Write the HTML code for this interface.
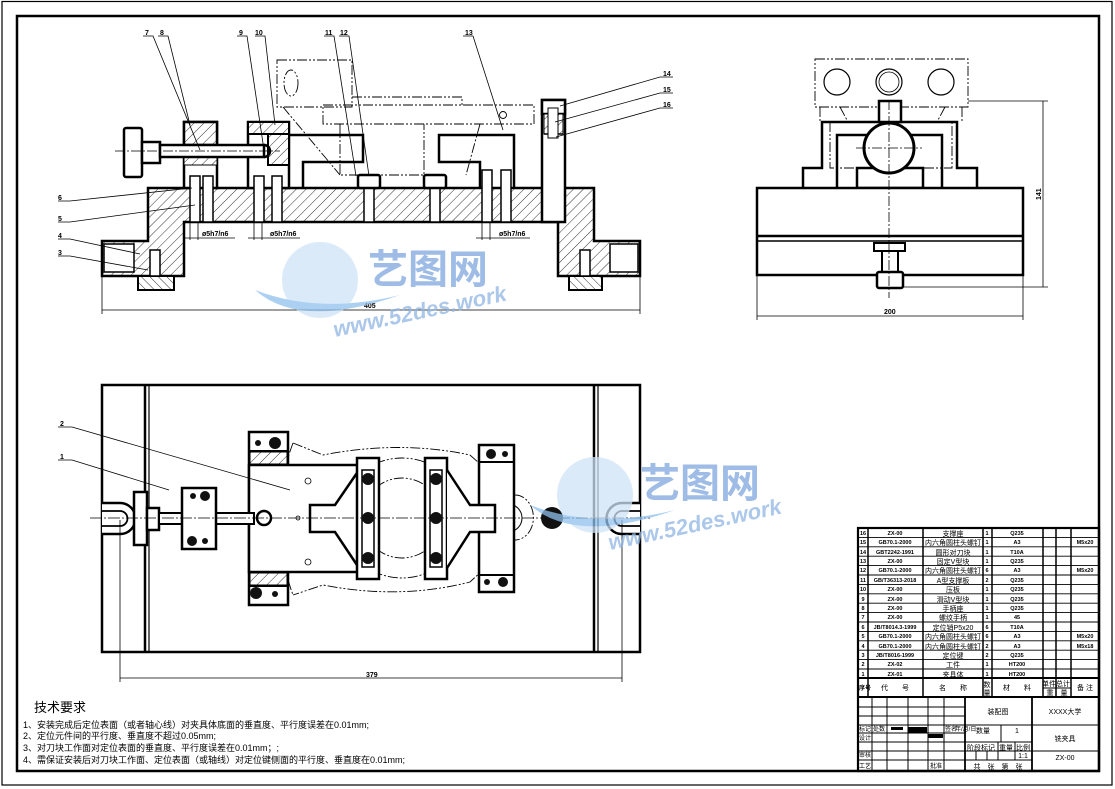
<!DOCTYPE html>
<html><head><meta charset="utf-8"><style>
html,body{margin:0;padding:0;background:#fff}
svg{display:block}
text{font-family:"Liberation Sans","Noto Sans CJK SC",sans-serif;fill:#000}
</style></head><body>
<svg width="1115" height="789" viewBox="0 0 1115 789" xmlns="http://www.w3.org/2000/svg">
<defs>
<pattern id="h" width="7" height="7" patternUnits="userSpaceOnUse" patternTransform="rotate(45)">
<rect width="7" height="7" fill="#fff"/><line x1="0" y1="0" x2="0" y2="7" stroke="#000" stroke-width="0.8"/></pattern>
<pattern id="h2" width="6" height="6" patternUnits="userSpaceOnUse" patternTransform="rotate(-45)">
<rect width="6" height="6" fill="#fff"/><line x1="0" y1="0" x2="0" y2="6" stroke="#000" stroke-width="0.8"/></pattern>
</defs>
<!-- frames -->
<rect x="2" y="1.5" width="1110" height="783.5" fill="none" stroke="#000" stroke-width="1.2"/>
<rect x="17" y="16" width="1082" height="755" fill="none" stroke="#000" stroke-width="2.5"/>

<!-- ============ FRONT VIEW ============ -->
<g stroke="#000" fill="none">
<!-- phantom workpiece -->
<g stroke-width="0.9" stroke-dasharray="10,2,2,2,2,2">
<rect x="277" y="60" width="75" height="47"/>
<rect x="323" y="105" width="211" height="19"/>
<path d="M352,97 H462 V105"/>
<ellipse cx="291" cy="83" rx="7" ry="13"/>
<path d="M340,124 V175 H424 V124"/>
<path d="M480,124 L466,175"/>
<path d="M283,107 L340,175"/>
</g>
<circle cx="503" cy="115" r="3.5" stroke-width="0.9"/>
<!-- body -->
<path d="M148,188 H594 V241 H640 V276 H558 V222 H184 V276 H102 V241 H148 Z" fill="url(#h)" stroke-width="2.5"/>
<rect x="104" y="244" width="30" height="28" fill="#fff" stroke-width="1.5"/>
<rect x="610" y="244" width="28" height="28" fill="#fff" stroke-width="1.5"/>
<!-- keys -->
<rect x="138" y="276" width="36" height="14" fill="url(#h2)" stroke-width="2"/>
<rect x="569" y="276" width="33" height="14" fill="url(#h2)" stroke-width="2"/>
<rect x="150" y="250" width="10" height="26" fill="#fff" stroke-width="1.5"/>
<rect x="580" y="250" width="10" height="26" fill="#fff" stroke-width="1.5"/>
<!-- block 8 -->
<rect x="184" y="122" width="33" height="66" fill="#fff" stroke-width="2.5"/>
<rect x="184" y="122" width="33" height="23" fill="url(#h)" stroke-width="2.5"/>
<rect x="184" y="157" width="33" height="8" fill="url(#h)" stroke-width="1"/>
<!-- block 10 -->
<rect x="248" y="122" width="41" height="66" fill="#fff" stroke-width="2.5"/>
<rect x="248" y="122" width="41" height="12" fill="url(#h)" stroke-width="2"/>
<rect x="268" y="134" width="21" height="31" fill="url(#h)" stroke-width="2"/>
<!-- handle -->
<rect x="124" y="128" width="18" height="49" rx="2" fill="#fff" stroke-width="2.5"/>
<rect x="142" y="142" width="18" height="21" fill="#fff" stroke-width="2.5"/>
<rect x="160" y="145" width="104" height="12" fill="#fff" stroke-width="2.5"/>
<path d="M264,145 A6,6 0 0 1 264,157" stroke-width="2.5"/>
<line x1="115" y1="151" x2="280" y2="151" stroke-width="0.8" stroke-dasharray="10,2,2,2"/>
<!-- block 11 -->
<path d="M290,135 H363 V162 H303 V188" stroke-width="2.5"/>
<!-- block 13 -->
<path d="M480,188 V162 H439 V135 H514 V188" stroke-width="2.5"/>
<!-- screws -->
<g stroke-width="1.5" fill="#fff">
<rect x="190" y="176" width="10" height="46"/><rect x="203" y="176" width="10" height="46"/>
<rect x="254" y="176" width="10" height="46"/><rect x="272" y="176" width="10" height="46"/>
<rect x="482" y="170" width="10" height="52"/><rect x="501" y="170" width="10" height="52"/>
<rect x="364" y="188" width="10" height="34"/><rect x="430" y="188" width="10" height="34"/>
</g>
<rect x="358" y="175" width="22" height="13" rx="2" fill="#fff" stroke-width="2.5"/>
<rect x="424" y="175" width="22" height="13" rx="2" fill="#fff" stroke-width="2.5"/>
<!-- pin 14 -->
<rect x="542" y="100" width="23" height="122" fill="#fff" stroke-width="2.5"/>
<rect x="542" y="100" width="23" height="14" fill="#fff" stroke-width="2.5"/>
<rect x="544" y="114" width="19" height="20" fill="url(#h)" stroke-width="1"/>
<line x1="544" y1="134" x2="563" y2="134" stroke-width="1.5"/>
<rect x="548" y="108" width="10" height="30" fill="#fff" stroke-width="1"/>
<!-- dimension 405 -->
<g stroke-width="0.8">
<line x1="102" y1="276" x2="102" y2="314"/><line x1="640" y1="276" x2="640" y2="314"/>
<line x1="102" y1="310" x2="640" y2="310"/>
<line x1="190" y1="222" x2="190" y2="240"/><line x1="198" y1="222" x2="198" y2="240"/><line x1="184" y1="238" x2="235" y2="238"/>
<line x1="254" y1="222" x2="254" y2="240"/><line x1="262" y1="222" x2="262" y2="240"/><line x1="248" y1="238" x2="300" y2="238"/>
<line x1="482" y1="222" x2="482" y2="240"/><line x1="490" y1="222" x2="490" y2="240"/><line x1="476" y1="238" x2="530" y2="238"/>
</g>
<!-- leaders -->
<g stroke-width="0.8">
<path d="M143,36 H153 L200,150"/><path d="M158,36 H168 L190,125"/>
<path d="M237,36 H247 L264,150"/><path d="M255,36 H265 L275,125"/>
<path d="M324,36 H334 L356,176"/><path d="M339,36 H349 L369,176"/>
<path d="M463,36 H473 L503,130"/>
<path d="M673,77 H660 L560,106"/><path d="M673,93 H660 L555,122"/><path d="M673,108 H660 L556,137"/>
<path d="M58,201 H70 L192,188"/><path d="M58,222 H70 L195,205"/>
<path d="M58,239 H70 L140,254"/><path d="M58,256 H70 L148,270"/>
</g>
</g>
<g font-size="7" font-weight="bold">
<text x="145" y="35">7</text><text x="160" y="35">8</text><text x="239" y="35">9</text><text x="255" y="35">10</text>
<text x="325" y="35">11</text><text x="340" y="35">12</text><text x="465" y="35">13</text>
<text x="663" y="76">14</text><text x="663" y="92">15</text><text x="663" y="107">16</text>
<text x="58" y="200">6</text><text x="58" y="221">5</text><text x="58" y="238">4</text><text x="58" y="255">3</text>
<text x="364" y="308">405</text>
<text x="202" y="236">ø5h7/n6</text><text x="270" y="236">ø5h7/n6</text><text x="499" y="236">ø5h7/n6</text>
</g>

<!-- ============ SIDE VIEW ============ -->
<g stroke="#000" fill="none">
<g stroke-width="0.9" stroke-dasharray="10,2,2,2,2,2">
<rect x="815" y="59" width="153" height="48"/>
<path d="M820,107 V122 M962,107 V122 M840,107 L848,122 M945,107 L937,122 M830,122 V168 H952 V122"/>
</g>
<circle cx="837" cy="82" r="13" stroke-width="1.2"/>
<circle cx="889" cy="82" r="13" stroke-width="1.2"/><circle cx="889" cy="82" r="10" stroke-width="0.8"/>
<circle cx="941" cy="82" r="13" stroke-width="1.2"/>
<path d="M803,188 V168 H822 V122 H957 V168 H977 V188" stroke-width="2.5"/>
<path d="M837,188 V135 H942 V188" stroke-width="2.5"/>
<rect x="857" y="168" width="66" height="20" stroke-width="2.5"/>
<rect x="879" y="101" width="22" height="21" fill="#fff" stroke-width="2.5"/>
<circle cx="889" cy="148" r="25" fill="#fff" stroke-width="3"/>
<rect x="757" y="188" width="266" height="87" fill="#fff" stroke-width="2.5"/>
<line x1="757" y1="236" x2="1023" y2="236" stroke-width="2.5"/>
<line x1="757" y1="241" x2="1023" y2="241" stroke-width="1.5"/>
<rect x="874" y="243" width="31" height="8" fill="#fff" stroke-width="2"/>
<rect x="882" y="251" width="16" height="21" fill="#fff" stroke-width="2"/>
<rect x="877" y="272" width="26" height="16" rx="2" fill="#fff" stroke-width="2.5"/>
<line x1="889" y1="100" x2="889" y2="298" stroke-width="0.8" stroke-dasharray="10,2,2,2"/>
<line x1="856" y1="148" x2="922" y2="148" stroke-width="0.8" stroke-dasharray="10,2,2,2"/>
<g stroke-width="0.8">
<line x1="968" y1="101" x2="1048" y2="101"/><line x1="903" y1="287" x2="1048" y2="287"/>
<line x1="1043" y1="101" x2="1043" y2="287"/>
<line x1="757" y1="275" x2="757" y2="320"/><line x1="1023" y1="275" x2="1023" y2="320"/>
<line x1="757" y1="316" x2="1023" y2="316"/>
</g>
</g>
<text x="884" y="314" font-size="7" font-weight="bold">200</text>
<text x="0" y="0" font-size="7" font-weight="bold" transform="translate(1041,200) rotate(-90)">141</text>

<!-- ============ TOP VIEW ============ -->
<g stroke="#000" fill="none">
<rect x="102" y="385" width="538" height="267" stroke-width="2.5"/>
<line x1="145" y1="385" x2="145" y2="652" stroke-width="2.5"/><line x1="149" y1="385" x2="149" y2="652" stroke-width="1.2"/>
<line x1="594" y1="385" x2="594" y2="652" stroke-width="2.5"/><line x1="598" y1="385" x2="598" y2="652" stroke-width="1.2"/>
<!-- U slots -->
<path d="M102,503 H120 A15,15 0 0 1 120,534 H102" fill="#fff" stroke-width="2.5"/>
<path d="M102,511 H120 A7,7 0 0 1 120,526 H102" stroke-width="1.8"/>
<path d="M640,503 H622 A15,15 0 0 0 622,534 H640" fill="#fff" stroke-width="2.5"/>
<path d="M640,511 H622 A7,7 0 0 0 622,526 H640" stroke-width="1.8"/>
<!-- phantom workpiece -->
<g stroke-width="0.9" stroke-dasharray="10,2,2,2,2,2">
<path d="M293,443 L323,455 Q400,440 470,455 L515,495 A18,22 0 0 1 515,540 L470,582 Q400,600 323,585 L293,595"/>
<path d="M293,443 Q265,518 293,595"/>
<ellipse cx="402" cy="518" rx="62" ry="60"/>
<ellipse cx="402" cy="518" rx="40" ry="40"/>
</g>
<circle cx="508" cy="518" r="14" stroke-width="1"/>
<!-- left block -->
<rect x="249" y="432" width="39" height="173" fill="#fff" stroke-width="2.5"/>
<rect x="249" y="465" width="110" height="107" fill="#fff" stroke-width="2.5"/>
<rect x="250" y="452" width="37" height="12" fill="url(#h)" stroke-width="1"/>
<rect x="250" y="573" width="37" height="12" fill="url(#h)" stroke-width="1"/>
<line x1="249" y1="451" x2="288" y2="451" stroke-width="2"/><line x1="249" y1="586" x2="288" y2="586" stroke-width="2"/>
<path d="M359,470 L335,505 H310 V532 H335 L359,568" fill="#fff" stroke-width="2.5"/>
<!-- jaws -->
<rect x="357" y="458" width="22" height="121" fill="#fff" stroke-width="2.5"/>
<rect x="362" y="470" width="12" height="97" stroke-width="1.5"/>
<rect x="425" y="458" width="22" height="121" fill="#fff" stroke-width="2.5"/>
<rect x="430" y="470" width="12" height="97" stroke-width="1.5"/>
<!-- right block -->
<rect x="479" y="445" width="35" height="147" fill="#fff" stroke-width="2.5"/>
<path d="M447,470 L470,505 H495 V532 H470 L447,568" fill="#fff" stroke-width="2.5"/>
<line x1="479" y1="462" x2="514" y2="462" stroke-width="2"/><line x1="479" y1="575" x2="514" y2="575" stroke-width="2"/>
<!-- screw rod -->
<rect x="134" y="492" width="13" height="53" fill="#fff" stroke-width="2.5"/>
<rect x="147" y="508" width="12" height="22" fill="#fff" stroke-width="2.5"/>
<rect x="159" y="513" width="95" height="11" fill="#fff" stroke-width="2"/>
<rect x="182" y="488" width="34" height="61" fill="#fff" stroke-width="2.5"/>
<circle cx="264" cy="518" r="7" fill="#fff" stroke-width="2.5"/>
<line x1="90" y1="518" x2="650" y2="518" stroke-width="0.8" stroke-dasharray="12,2,2,2"/>
<!-- dims -->
<g stroke-width="0.8">
<line x1="120" y1="520" x2="120" y2="682"/><line x1="622" y1="520" x2="622" y2="682"/>
<line x1="120" y1="678" x2="622" y2="678"/>
<path d="M58,427 H72 L290,490"/><path d="M58,460 H72 L169,490"/>
</g>
</g>
<!-- filled circles top view -->
<g fill="#111">
<circle cx="258" cy="443" r="3"/><circle cx="275" cy="443" r="6"/>
<circle cx="256" cy="593" r="6"/><circle cx="275" cy="594" r="3"/>
<circle cx="491" cy="454" r="5"/><circle cx="505" cy="454" r="3"/>
<circle cx="487" cy="582" r="3"/><circle cx="503" cy="582" r="5"/>
<circle cx="193" cy="496" r="3"/><circle cx="205" cy="496" r="5"/>
<circle cx="192" cy="541" r="5"/><circle cx="205" cy="541" r="3"/>
<circle cx="368" cy="479" r="6"/><circle cx="368" cy="518" r="6"/><circle cx="368" cy="558" r="6"/>
<circle cx="436" cy="479" r="6"/><circle cx="436" cy="518" r="6"/><circle cx="436" cy="558" r="6"/>
<circle cx="552" cy="518" r="11"/>
</g>
<g fill="none" stroke="#000" stroke-width="0.8"><circle cx="308" cy="481" r="3"/><circle cx="298" cy="518" r="2"/><circle cx="308" cy="562" r="3"/></g>
<g font-size="7" font-weight="bold">
<text x="60" y="426">2</text><text x="60" y="459">1</text><text x="366" y="677">379</text>
</g>

<!-- ============ WATERMARKS ============ -->
<g opacity="0.75">
<ellipse cx="320" cy="280" rx="38" ry="38" fill="#cfe3f7"/>
<path d="M255,290 Q300,330 400,295 Q320,315 255,290 Z" fill="#8fc0ec"/>
<text x="368" y="283" font-size="40" font-weight="bold" fill="#7ea6dc" style="fill:#7ea6dc" font-family="Noto Sans CJK SC,sans-serif">艺图网</text>
<text x="0" y="0" font-size="22" font-weight="bold" font-style="italic" style="fill:#8fb4e2" transform="translate(335,337) rotate(-12)">www.52des.work</text>
<ellipse cx="595" cy="495" rx="38" ry="38" fill="#cfe3f7"/>
<path d="M530,505 Q575,545 675,510 Q595,530 530,505 Z" fill="#8fc0ec"/>
<text x="640" y="497" font-size="40" font-weight="bold" style="fill:#7ea6dc" font-family="Noto Sans CJK SC,sans-serif">艺图网</text>
<text x="0" y="0" font-size="22" font-weight="bold" font-style="italic" style="fill:#8fb4e2" transform="translate(610,550) rotate(-12)">www.52des.work</text>
</g>

<!-- ============ TECH TEXT ============ -->
<g font-family="Liberation Sans,Noto Sans CJK SC,sans-serif">
<text x="34" y="712" font-size="13">技术要求</text>
<text x="23" y="728" font-size="9">1、安装完成后定位表面（或者轴心线）对夹具体底面的垂直度、平行度误差在0.01mm;</text>
<text x="23" y="739" font-size="9">2、定位元件间的平行度、垂直度不超过0.05mm;</text>
<text x="23" y="751" font-size="9">3、对刀块工作面对定位表面的垂直度、平行度误差在0.01mm；;</text>
<text x="23" y="763" font-size="9">4、需保证安装后对刀块工作面、定位表面（或轴线）对定位键侧面的平行度、垂直度在0.01mm;</text>
</g>

<!-- ============ TITLE BLOCK ============ -->
<g stroke="#000" fill="none">
<rect x="858" y="528" width="241" height="243" stroke-width="2.2"/>
<line x1="858" y1="678" x2="1099" y2="678" stroke-width="2"/>
<line x1="858" y1="697" x2="1099" y2="697" stroke-width="2"/>
<g stroke-width="0.9">
<line x1="858" y1="537.4" x2="1099" y2="537.4"/><line x1="858" y1="546.8" x2="1099" y2="546.8"/>
<line x1="858" y1="556.2" x2="1099" y2="556.2"/><line x1="858" y1="565.6" x2="1099" y2="565.6"/>
<line x1="858" y1="575" x2="1099" y2="575"/><line x1="858" y1="584.4" x2="1099" y2="584.4"/>
<line x1="858" y1="593.8" x2="1099" y2="593.8"/><line x1="858" y1="603.2" x2="1099" y2="603.2"/>
<line x1="858" y1="612.6" x2="1099" y2="612.6"/><line x1="858" y1="622" x2="1099" y2="622"/>
<line x1="858" y1="631.4" x2="1099" y2="631.4"/><line x1="858" y1="640.8" x2="1099" y2="640.8"/>
<line x1="858" y1="650.2" x2="1099" y2="650.2"/><line x1="858" y1="659.6" x2="1099" y2="659.6"/>
<line x1="858" y1="669" x2="1099" y2="669"/>
<line x1="1043" y1="688" x2="1071" y2="688"/>
</g>
<g stroke-width="1.5">
<line x1="868" y1="528" x2="868" y2="697"/><line x1="923" y1="528" x2="923" y2="697"/>
<line x1="983" y1="528" x2="983" y2="697"/><line x1="992" y1="528" x2="992" y2="697"/>
<line x1="1043" y1="528" x2="1043" y2="697"/><line x1="1056" y1="528" x2="1056" y2="697"/>
<line x1="1071" y1="528" x2="1071" y2="697"/>
</g>
<!-- lower -->
<g stroke-width="1">
<line x1="858" y1="707" x2="965" y2="707"/><line x1="858" y1="716" x2="965" y2="716"/>
<line x1="858" y1="725" x2="1099" y2="725"/><line x1="858" y1="733" x2="965" y2="733"/>
<line x1="858" y1="742" x2="1032" y2="742"/><line x1="858" y1="751" x2="965" y2="751"/>
<line x1="965" y1="751" x2="1099" y2="751"/>
<line x1="858" y1="760" x2="1032" y2="760"/>
<line x1="872" y1="697" x2="872" y2="771"/><line x1="887" y1="697" x2="887" y2="771"/>
<line x1="908" y1="697" x2="908" y2="771"/><line x1="928" y1="697" x2="928" y2="771"/>
<line x1="944" y1="697" x2="944" y2="771"/>
<line x1="965" y1="697" x2="965" y2="771" stroke-width="1.8"/>
<line x1="1032" y1="697" x2="1032" y2="771" stroke-width="1.8"/>
<line x1="1001" y1="725" x2="1001" y2="742"/>
<line x1="998" y1="742" x2="998" y2="760"/><line x1="1015" y1="742" x2="1015" y2="760"/>
<line x1="976" y1="751" x2="976" y2="760"/><line x1="987" y1="751" x2="987" y2="760"/>
</g>
</g>
<rect x="891" y="727" width="12" height="3" fill="#000"/><rect x="908" y="727" width="19" height="6" fill="#000"/>
<rect x="928" y="734" width="15" height="4" fill="#000"/>
<g font-size="5.5" font-weight="bold" text-anchor="middle">
<text x="863" y="535">16</text><text x="863" y="544">15</text><text x="863" y="554">14</text><text x="863" y="563">13</text>
<text x="863" y="572">12</text><text x="863" y="582">11</text><text x="863" y="591">10</text><text x="863" y="601">9</text>
<text x="863" y="610">8</text><text x="863" y="619">7</text><text x="863" y="629">6</text><text x="863" y="638">5</text>
<text x="863" y="648">4</text><text x="863" y="657">3</text><text x="863" y="666">2</text><text x="863" y="676">1</text>
<text x="895" y="535">ZX-00</text><text x="895" y="544">GB70.1-2000</text><text x="895" y="554">GBT2242-1991</text><text x="895" y="563">ZX-00</text>
<text x="895" y="572">GB70.1-2000</text><text x="895" y="582">GB/T36313-2018</text><text x="895" y="591">ZX-00</text><text x="895" y="601">ZX-00</text>
<text x="895" y="610">ZX-00</text><text x="895" y="619">ZX-00</text><text x="895" y="629">JB/T8014.3-1999</text><text x="895" y="638">GB70.1-2000</text>
<text x="895" y="648">GB70.1-2000</text><text x="895" y="657">JB/T8016-1999</text><text x="895" y="666">ZX-02</text><text x="895" y="676">ZX-01</text>
<text x="987" y="535">1</text><text x="987" y="544">1</text><text x="987" y="554">1</text><text x="987" y="563">1</text>
<text x="987" y="572">6</text><text x="987" y="582">2</text><text x="987" y="591">1</text><text x="987" y="601">1</text>
<text x="987" y="610">1</text><text x="987" y="619">1</text><text x="987" y="629">6</text><text x="987" y="638">6</text>
<text x="987" y="648">2</text><text x="987" y="657">2</text><text x="987" y="666">1</text><text x="987" y="676">1</text>
<text x="1017" y="535">Q235</text><text x="1017" y="544">A3</text><text x="1017" y="554">T10A</text><text x="1017" y="563">Q235</text>
<text x="1017" y="572">A3</text><text x="1017" y="582">Q235</text><text x="1017" y="591">Q235</text><text x="1017" y="601">Q235</text>
<text x="1017" y="610">Q235</text><text x="1017" y="619">45</text><text x="1017" y="629">T10A</text><text x="1017" y="638">A3</text>
<text x="1017" y="648">A3</text><text x="1017" y="657">Q235</text><text x="1017" y="666">HT200</text><text x="1017" y="676">HT200</text>
<text x="1085" y="544">M5x20</text><text x="1085" y="572">M5x20</text><text x="1085" y="638">M5x20</text><text x="1085" y="648">M5x18</text>
</g>
<g font-size="7" text-anchor="middle" font-family="Liberation Sans,Noto Sans CJK SC,sans-serif">
<text x="953" y="536">支撑座</text><text x="953" y="545">内六角圆柱头螺钉</text><text x="953" y="555">圆形对刀块</text><text x="953" y="564">固定V型块</text>
<text x="953" y="573">内六角圆柱头螺钉</text><text x="953" y="583">A型支撑板</text><text x="953" y="592">压板</text><text x="953" y="602">滑动V型块</text>
<text x="953" y="611">手柄座</text><text x="953" y="620">螺纹手柄</text><text x="953" y="630">定位销P5x20</text><text x="953" y="639">内六角圆柱头螺钉</text>
<text x="953" y="649">内六角圆柱头螺钉</text><text x="953" y="658">定位键</text><text x="953" y="667">工件</text><text x="953" y="677">夹具体</text>
<text x="895" y="690">代　　号</text><text x="953" y="690">名　　称</text><text x="987" y="687">数</text><text x="987" y="695">量</text>
<text x="1017" y="690">材　　料</text><text x="1049" y="686">单件</text><text x="1063" y="686">总计</text><text x="1057" y="695">重　量</text><text x="1085" y="690">备 注</text>
<text x="998" y="714">装配图</text><text x="1065" y="714">XXXX大学</text>
<text x="983" y="733">数量</text><text x="1017" y="733">1</text><text x="1065" y="741">铣夹具</text>
<text x="981" y="750">阶段标记</text><text x="1006" y="750">重量</text><text x="1023" y="750">比例</text>
<text x="1023" y="758">1:1</text><text x="1065" y="760">ZX-00</text>
<text x="998" y="769">共　张　第　张</text>
</g>
<g font-size="6" font-family="Liberation Sans,Noto Sans CJK SC,sans-serif">
<text x="859" y="731">标记</text><text x="873" y="731">处数</text><text x="945" y="731">签名</text><text x="955" y="731">年/月/日</text>
<text x="859" y="740">设计</text><text x="859" y="757">审核</text><text x="859" y="768">工艺</text><text x="930" y="768">批准</text>
<text x="859" y="690" font-weight="bold">序号</text>
</g>
</svg>
</body></html>
